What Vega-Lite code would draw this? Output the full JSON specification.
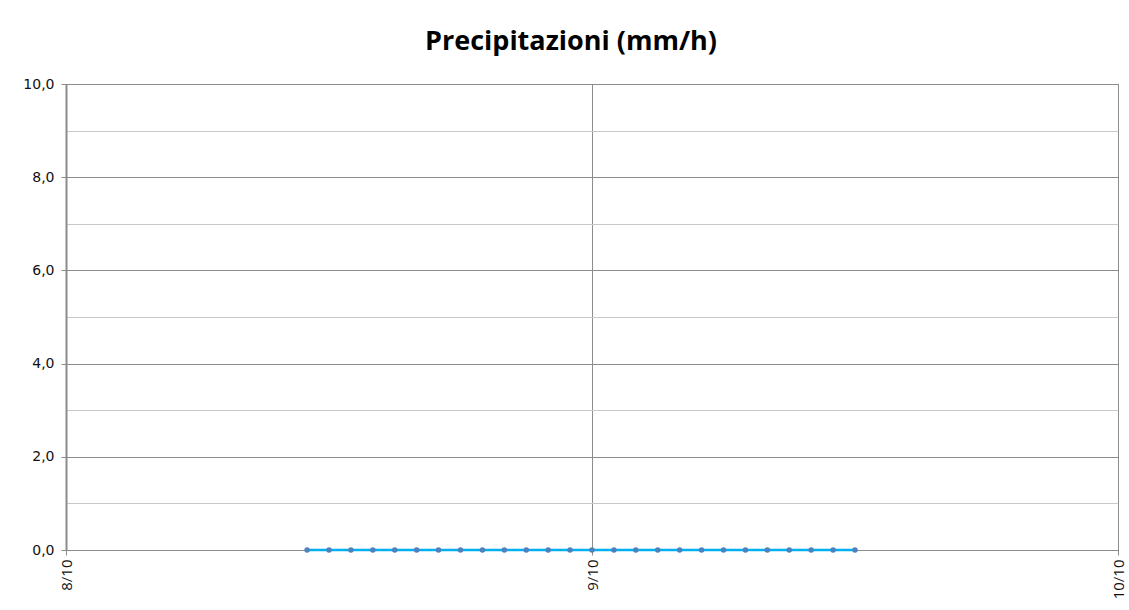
{
  "$schema": "https://vega.github.io/schema/vega-lite/v6.json",
  "width": 1052,
  "height": 466,
  "autosize": "none",
  "padding": {"left": 66, "top": 84, "right": 11, "bottom": 60},
  "background": "white",
  "title": {
    "text": "Precipitazioni (mm/h)",
    "font": "Open Sans",
    "fontSize": 27,
    "fontWeight": "bold",
    "color": "#000000",
    "anchor": "middle",
    "dx": -21,
    "offset": 21
  },
  "config": {
    "view": {"stroke": "#8c8c8c", "strokeWidth": 1},
    "axis": {"domainColor": "#8c8c8c", "tickColor": "#8c8c8c", "labelColor": "#111111"}
  },
  "data": {
    "values": [
      {"time": "2013-10-08T11:00:00Z", "mm": 0},
      {"time": "2013-10-08T12:00:00Z", "mm": 0},
      {"time": "2013-10-08T13:00:00Z", "mm": 0},
      {"time": "2013-10-08T14:00:00Z", "mm": 0},
      {"time": "2013-10-08T15:00:00Z", "mm": 0},
      {"time": "2013-10-08T16:00:00Z", "mm": 0},
      {"time": "2013-10-08T17:00:00Z", "mm": 0},
      {"time": "2013-10-08T18:00:00Z", "mm": 0},
      {"time": "2013-10-08T19:00:00Z", "mm": 0},
      {"time": "2013-10-08T20:00:00Z", "mm": 0},
      {"time": "2013-10-08T21:00:00Z", "mm": 0},
      {"time": "2013-10-08T22:00:00Z", "mm": 0},
      {"time": "2013-10-08T23:00:00Z", "mm": 0},
      {"time": "2013-10-09T00:00:00Z", "mm": 0},
      {"time": "2013-10-09T01:00:00Z", "mm": 0},
      {"time": "2013-10-09T02:00:00Z", "mm": 0},
      {"time": "2013-10-09T03:00:00Z", "mm": 0},
      {"time": "2013-10-09T04:00:00Z", "mm": 0},
      {"time": "2013-10-09T05:00:00Z", "mm": 0},
      {"time": "2013-10-09T06:00:00Z", "mm": 0},
      {"time": "2013-10-09T07:00:00Z", "mm": 0},
      {"time": "2013-10-09T08:00:00Z", "mm": 0},
      {"time": "2013-10-09T09:00:00Z", "mm": 0},
      {"time": "2013-10-09T10:00:00Z", "mm": 0},
      {"time": "2013-10-09T11:00:00Z", "mm": 0},
      {"time": "2013-10-09T12:00:00Z", "mm": 0}
    ]
  },
  "mark": {
    "type": "line",
    "color": "#00B0F0",
    "strokeWidth": 2.5,
    "point": {"filled": true, "color": "#4F81BD", "size": 30}
  },
  "encoding": {
    "x": {
      "field": "time",
      "type": "temporal",
      "title": null,
      "scale": {
        "type": "utc",
        "domain": [
          {"year": 2013, "month": 10, "date": 8, "utc": true},
          {"year": 2013, "month": 10, "date": 10, "utc": true}
        ]
      },
      "axis": {
        "values": [
          {"year": 2013, "month": 10, "date": 8, "utc": true},
          {"year": 2013, "month": 10, "date": 9, "utc": true},
          {"year": 2013, "month": 10, "date": 10, "utc": true}
        ],
        "labelExpr": "utcFormat(datum.value, '%-d/%m')",
        "labelAngle": -90,
        "labelFont": "Open Sans",
        "labelFontSize": 15,
        "labelPadding": 4,
        "tickSize": 5,
        "grid": true,
        "gridColor": "#8c8c8c",
        "gridWidth": 1
      }
    },
    "y": {
      "field": "mm",
      "type": "quantitative",
      "title": null,
      "scale": {"domain": [0, 10], "nice": false, "zero": true},
      "axis": {
        "values": [0, 1, 2, 3, 4, 5, 6, 7, 8, 9, 10],
        "labelExpr": "datum.value % 2 === 0 ? replace(format(datum.value, '.1f'), '.', ',') : ''",
        "labelFont": "DejaVu Sans",
        "labelFontSize": 14,
        "labelPadding": 7,
        "tickSize": 5,
        "domainWidth": 2,
        "tickColor": {"condition": {"test": "datum.value % 2 === 1", "value": "transparent"}, "value": "#8c8c8c"},
        "grid": true,
        "gridColor": {"condition": {"test": "datum.value % 2 === 1", "value": "#c8c8c8"}, "value": "#8c8c8c"},
        "gridWidth": 1
      }
    }
  }
}
